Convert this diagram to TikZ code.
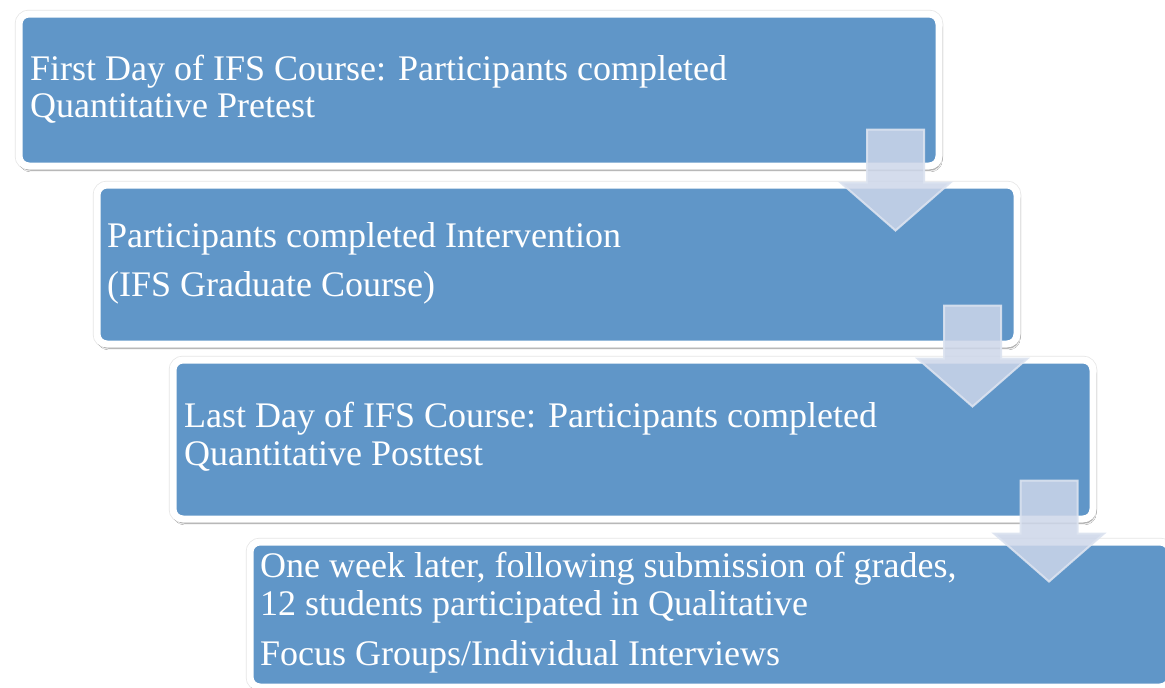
\documentclass[tikz,border=0pt]{standalone}
\usepackage{fontspec}
\setmainfont{Liberation Serif}
\usetikzlibrary{calc,shadows.blur}
\definecolor{boxblue}{HTML}{6096C8}
\definecolor{arrowfill}{HTML}{CDD6E9}
\definecolor{arrowline}{HTML}{DCE3F0}
\begin{document}
\begin{tikzpicture}[x=1pt,y=-1pt,
  stepbox/.style={draw=white, line width=7pt, fill=boxblue, rounded corners=10pt,
    anchor=north west, inner sep=0pt, minimum width=920pt,
    preaction={draw=black!10, line width=8.5pt},
    blur shadow={shadow xshift=1.5pt, shadow yshift=-4pt, shadow blur steps=6, shadow opacity=45}},
  steptext/.style={anchor=base west, inner sep=0pt, text=white, font=\fontsize{36}{40}\selectfont},
  flow/.style={fill=arrowfill, fill opacity=0.85, draw=arrowline, draw opacity=0.9, line width=2pt, line join=miter}]
\useasboundingbox[fill=white] (0,0) rectangle (1165,688);

\node[stepbox, minimum height=152pt] (b1) at (15.5,10.5) {};
\node[stepbox, minimum height=159pt] (b2) at (93.5,181.5) {};
\node[stepbox, minimum height=159pt] (b3) at (169.5,356.5) {};
\node[stepbox, minimum height=145pt] (b4) at (246.5,538.5) {};

\node[steptext] (t1a) at (30,80) {First Day of IFS Course: Participants completed};
\node[steptext] (t1b) at (30,117) {Quantitative Pretest};
\node[steptext] (t2a) at (107,247) {Participants completed Intervention};
\node[steptext] (t2b) at (107,296) {(IFS Graduate Course)};
\node[steptext] (t3a) at (184,427) {Last Day of IFS Course: Participants completed};
\node[steptext] (t3b) at (184,465) {Quantitative Posttest};
\node[steptext] (t4a) at (260,577) {One week later, following submission of grades,};
\node[steptext] (t4b) at (260,615) {12 students participated in Qualitative};
\node[steptext] (t4c) at (260,665) {Focus Groups/Individual Interviews};

\coordinate (a1) at ($(b1.south east)+(-47,-40)$);
\coordinate (a2) at ($(b2.south east)+(-48,-42)$);
\coordinate (a3) at ($(b3.south east)+(-47.5,-42)$);
\foreach \a in {a1,a2,a3}{
  \draw[flow] ($(\a)+(-28.5,0)$) -- ++(57,0) -- ++(0,53) -- ++(26.5,0) -- ++(-55,48)
    -- ++(-55,-48) -- ++(26.5,0) -- cycle;
}
\end{tikzpicture}
\end{document}
